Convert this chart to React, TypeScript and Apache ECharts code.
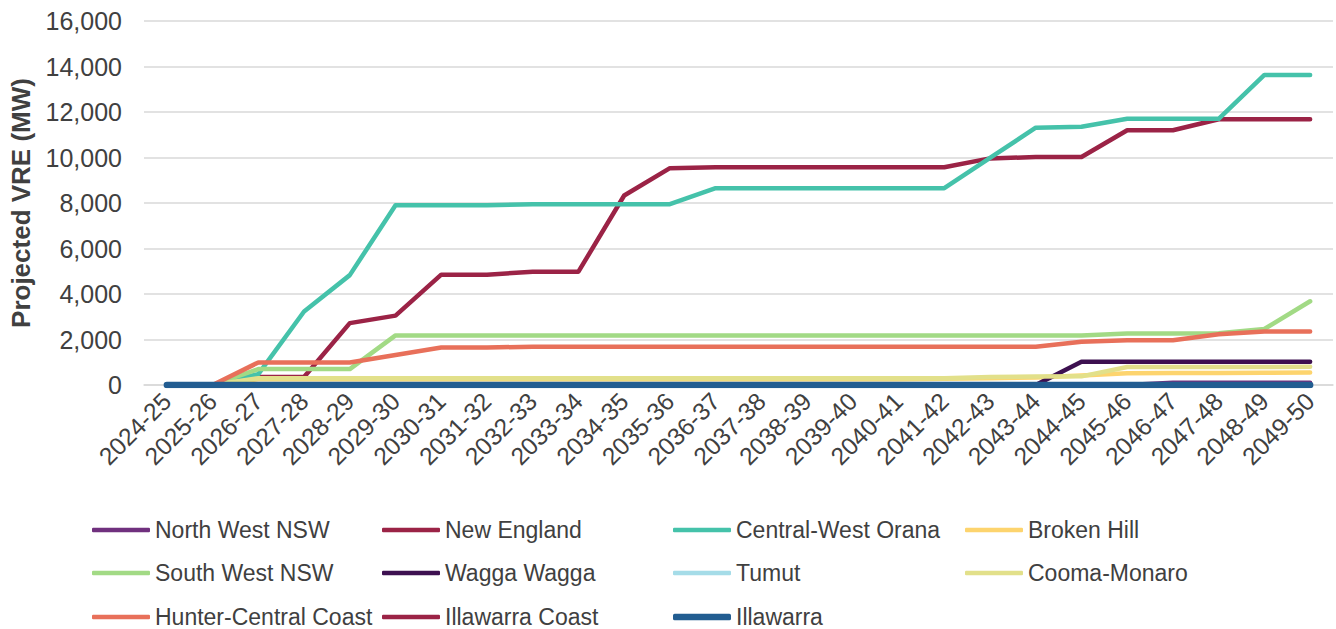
import React, { useEffect, useRef } from "react";
import * as echarts from "echarts";

const categories = [
  "2024-25", "2025-26", "2026-27", "2027-28", "2028-29", "2029-30", "2030-31",
  "2031-32", "2032-33", "2033-34", "2034-35", "2035-36", "2036-37", "2037-38",
  "2038-39", "2039-40", "2040-41", "2041-42", "2042-43", "2043-44", "2044-45",
  "2045-46", "2046-47", "2047-48", "2048-49", "2049-50",
];

const yTicks = [0, 2000, 4000, 6000, 8000, 10000, 12000, 14000, 16000];

const northWestNSW = [0, 0, 0, 0, 0, 0, 0, 0, 0, 0, 0, 0, 0, 0, 0, 0, 0, 0, 0, 0, 0, 0, 100, 100, 100, 100];
const newEngland = [0, 0, 350, 350, 2720, 3050, 4850, 4850, 4980, 4980, 8330, 9530, 9570, 9570, 9570, 9570, 9570, 9570, 9960, 10020, 10020, 11200, 11200, 11680, 11680, 11680];
const centralWestOrana = [0, 0, 480, 3230, 4830, 7900, 7900, 7900, 7950, 7950, 7950, 7950, 8650, 8650, 8650, 8650, 8650, 8650, 9980, 11310, 11350, 11700, 11700, 11700, 13630, 13630];
const brokenHill = [0, 0, 250, 250, 250, 250, 250, 250, 250, 250, 250, 250, 250, 250, 250, 250, 250, 270, 300, 330, 420, 520, 530, 530, 540, 550];
const southWestNSW = [0, 0, 700, 700, 700, 2180, 2180, 2180, 2180, 2180, 2180, 2180, 2180, 2180, 2180, 2180, 2180, 2180, 2180, 2180, 2180, 2260, 2260, 2270, 2460, 3680];
const waggaWagga = [0, 0, 0, 0, 0, 0, 0, 0, 0, 0, 0, 0, 0, 0, 0, 0, 0, 0, 0, 0, 1020, 1020, 1020, 1020, 1020, 1020];
const tumut = [0, 0, 0, 0, 0, 0, 0, 0, 0, 0, 0, 0, 0, 0, 0, 0, 0, 0, 0, 0, 0, 0, 0, 0, 0, 0];
const coomaMonaro = [0, 0, 300, 300, 300, 300, 300, 300, 300, 300, 300, 300, 300, 300, 300, 300, 300, 300, 350, 370, 380, 790, 790, 790, 795, 800];
const hunterCentralCoast = [0, 0, 990, 990, 990, 1320, 1650, 1650, 1680, 1680, 1680, 1680, 1680, 1680, 1680, 1680, 1680, 1680, 1680, 1680, 1900, 1970, 1970, 2230, 2350, 2350];
const illawarraCoast = [0, 0, 0, 0, 0, 0, 0, 0, 0, 0, 0, 0, 0, 0, 0, 0, 0, 0, 0, 0, 0, 0, 0, 0, 0, 0];
const illawarra = [0, 0, 0, 0, 0, 0, 0, 0, 0, 0, 0, 0, 0, 0, 0, 0, 0, 0, 0, 0, 0, 0, 0, 0, 0, 0];

const seriesNames = [
  "North West NSW", "New England", "Central-West Orana", "Broken Hill",
  "South West NSW", "Wagga Wagga", "Tumut", "Cooma-Monaro",
  "Hunter-Central Coast", "Illawarra Coast", "Illawarra",
];
const seriesData = [
  northWestNSW, newEngland, centralWestOrana, brokenHill,
  southWestNSW, waggaWagga, tumut, coomaMonaro,
  hunterCentralCoast, illawarraCoast, illawarra,
];
const seriesColors = [
  "#70307E", "#9B2346", "#45C2AA", "#FDD46E",
  "#A2DA85", "#3D1050", "#A5DCE8", "#E2E08A",
  "#E8705A", "#9B2346", "#225D91",
];
const seriesWidths = [4.5, 4.5, 4.5, 4.5, 4.5, 4.5, 4.5, 4.5, 4.5, 4.5, 6.5];

const FONT = "'Liberation Sans', Arial, Helvetica, sans-serif";
const TEXT = "#404040";

export default function App() {
  const ref = useRef<HTMLDivElement>(null);
  useEffect(() => {
    document.body.style.margin = "0";
    if (!ref.current) return;
    const chart = echarts.init(ref.current, undefined, { renderer: "svg" });

    const colX = [92, 382, 673, 965];
    const rowY = [530, 573, 617];
    const legends = seriesNames.map((name, i) => {
      const h = seriesWidths[i];
      return {
        data: [{ name, icon: "roundRect" }],
        left: colX[i % 4],
        top: rowY[Math.floor(i / 4)] - 13,
        padding: 0,
        itemWidth: 58,
        itemHeight: h,
        itemGap: 0,
        selectedMode: false,
        textStyle: {
          fontSize: 23,
          color: TEXT,
          fontFamily: FONT,
          padding: [0, 0, 0, 0],
          height: 26,
          lineHeight: 26,
        },
      };
    });

    chart.setOption({
      animation: false,
      backgroundColor: "#ffffff",
      textStyle: { fontFamily: FONT },
      grid: { left: 144, right: 3, top: 21, bottom: 244, containLabel: false },
      legend: legends,
      xAxis: {
        type: "category",
        data: categories,
        boundaryGap: true,
        axisLine: { show: true, lineStyle: { color: "#D9D9D9", width: 1.5 } },
        axisTick: { show: false },
        axisLabel: {
          rotate: 45,
          interval: 0,
          fontSize: 24.5,
          color: TEXT,
          fontFamily: FONT,
          margin: 12,
        },
      },
      yAxis: {
        type: "value",
        min: yTicks[0],
        max: yTicks[yTicks.length - 1],
        interval: yTicks[1] - yTicks[0],
        name: "Projected VRE (MW)",
        nameLocation: "middle",
        nameGap: 110,
        nameTextStyle: { fontSize: 26, fontWeight: "bold", color: TEXT, fontFamily: FONT },
        axisLine: { show: false },
        axisTick: { show: false },
        splitLine: { show: true, lineStyle: { color: "#D9D9D9", width: 1.5 } },
        axisLabel: {
          fontSize: 25,
          color: TEXT,
          fontFamily: FONT,
          margin: 22,
          formatter: (v: number) => v.toLocaleString("en-US"),
        },
      },
      series: seriesNames.map((name, i) => ({
        name,
        type: "line",
        data: seriesData[i],
        symbol: "none",
        color: seriesColors[i],
        lineStyle: { color: seriesColors[i], width: seriesWidths[i], cap: "round", join: "round" },
        z: 2 + i,
      })),
    });
    return () => chart.dispose();
  }, []);
  return <div ref={ref} style={{ width: 1336, height: 629 }} />;
}
